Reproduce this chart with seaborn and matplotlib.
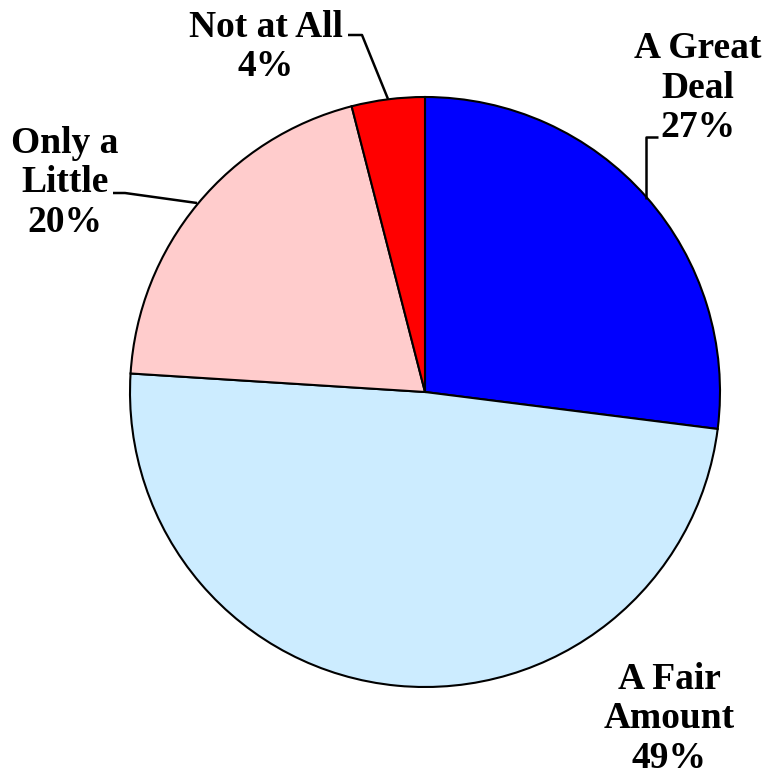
import matplotlib
matplotlib.use("Agg")
import matplotlib.pyplot as plt
import seaborn as sns

sns.set_theme(style="white")
plt.rcParams['font.family'] = ['Liberation Serif', 'DejaVu Serif']

# chart data
categories = ['A Great Deal', 'A Fair Amount', 'Only a Little', 'Not at All']
label_text = ['A Great\nDeal', 'A Fair\nAmount', 'Only a\nLittle', 'Not at All']
shares = [27, 49, 20, 4]
colors = ['#0000FF', '#CCECFF', '#FFCCCC', '#FF0000']

W, H = 767, 774
fig = plt.figure(figsize=(W / 100, H / 100), dpi=100)
ax = fig.add_axes([0, 0, 1, 1])

# pixel layout (y measured from top of image)
center = (425, 392)
radius = 295
ax.pie(shares, colors=colors, startangle=90, counterclock=False,
       center=(center[0], H - center[1]), radius=radius,
       wedgeprops={'edgecolor': 'black', 'linewidth': 1.5})

label_pos = [(698, 88), (669, 719), (65, 183), (266, 47)]
for txt, s, (x, y) in zip(label_text, shares, label_pos):
    ax.text(x, H - y, f"{txt}\n{s}%", ha='center', va='center',
            fontsize=27, fontweight='bold', color='black', linespacing=1.15)

# leader lines
leaders = [
    [(658, 137), (646, 137), (646, 199)],
    [(113, 193), (125, 193), (197, 203)],
    [(348, 35), (362, 35), (388, 99)],
]
for pts in leaders:
    xs = [p[0] for p in pts]
    ys = [H - p[1] for p in pts]
    ax.plot(xs, ys, color='black', lw=1.8, solid_capstyle='butt')

ax.set_xlim(0, W)
ax.set_ylim(0, H)
ax.set_aspect('equal')
ax.set_axis_off()

fig.savefig('out.png', dpi=100, facecolor='white')
